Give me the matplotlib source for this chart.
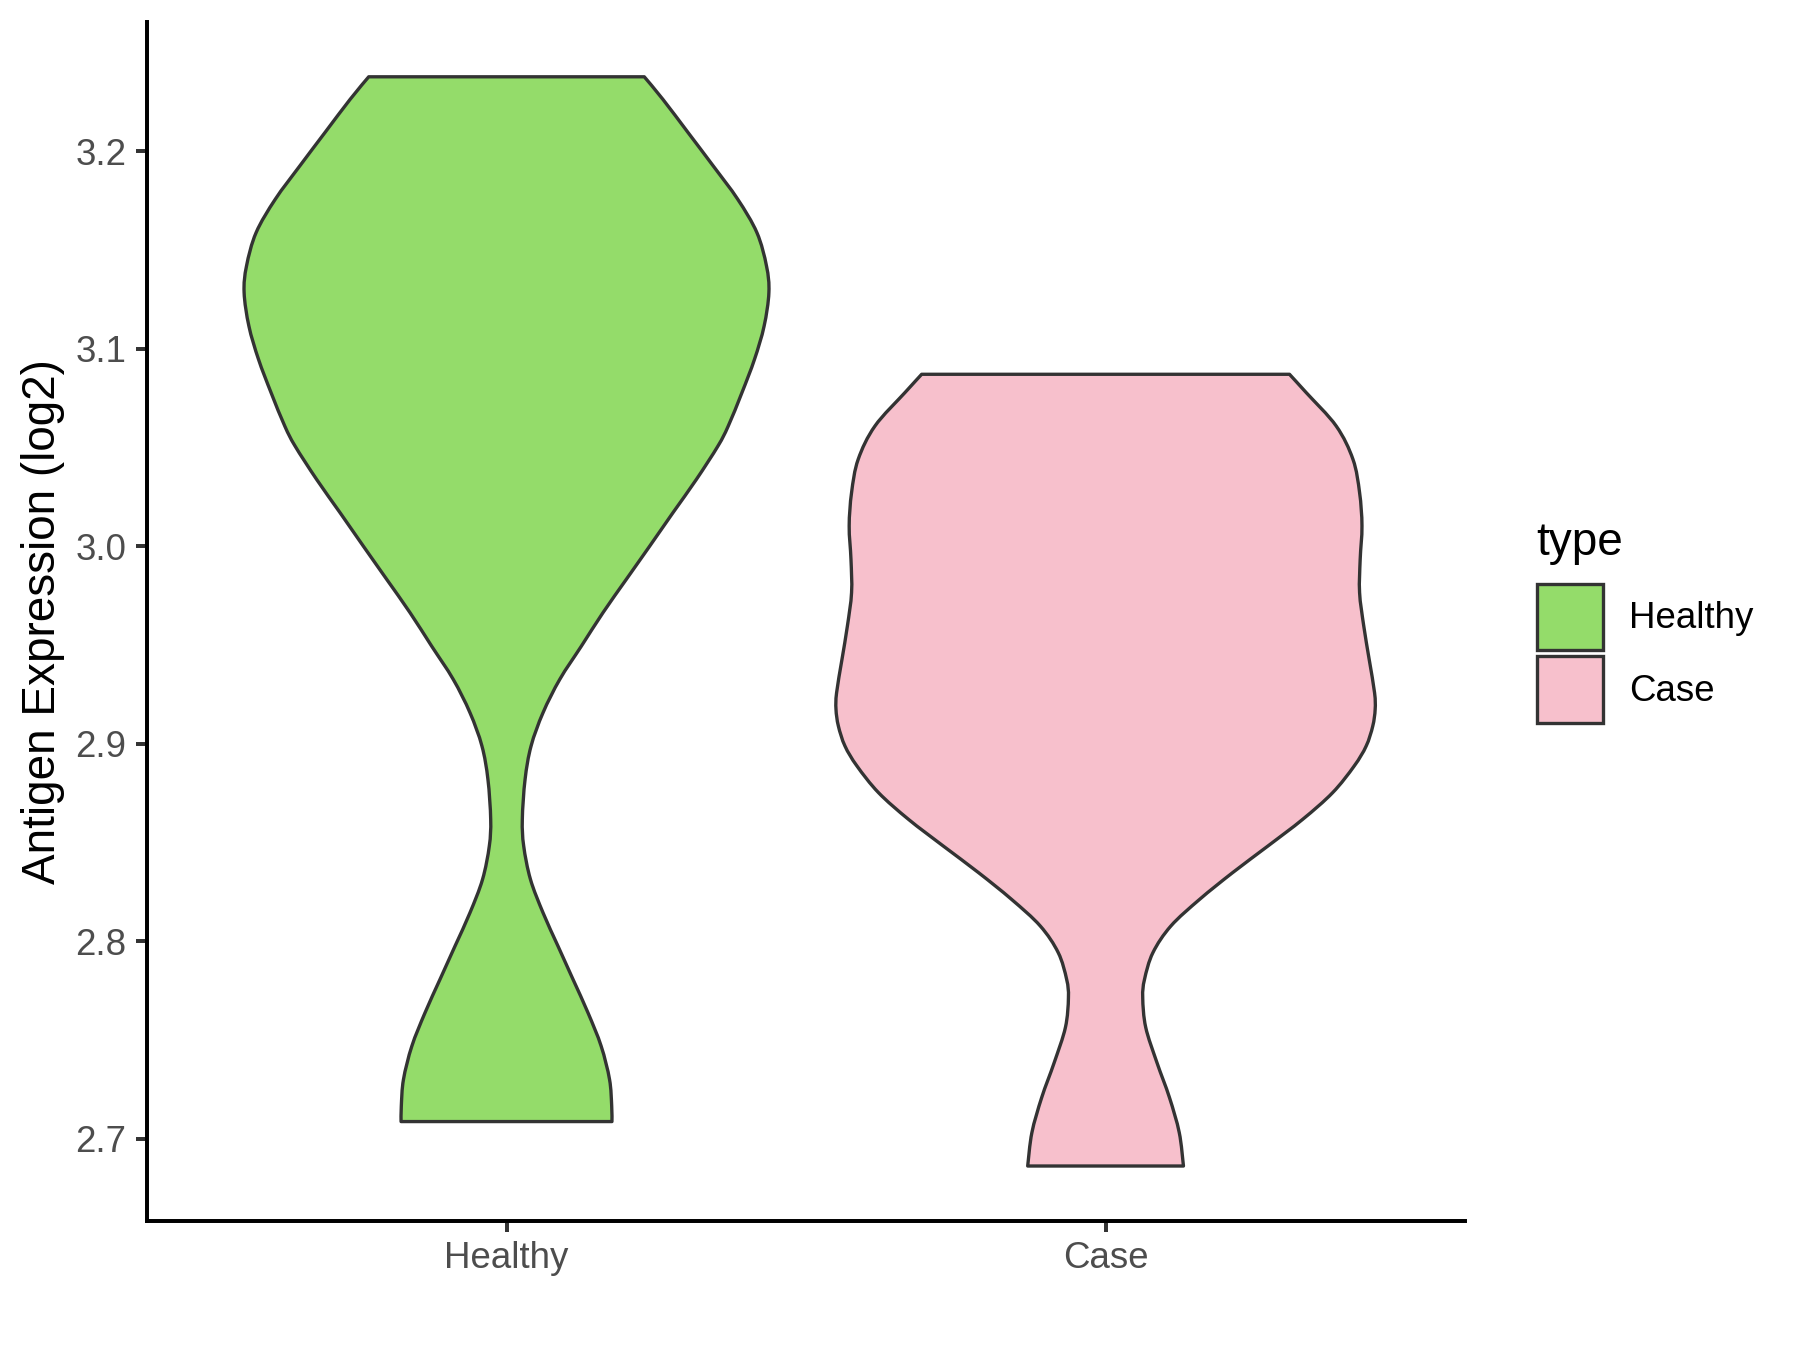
import numpy as np
import matplotlib.pyplot as plt
from matplotlib.patches import Patch, PathPatch
from matplotlib.path import Path

plt.rcParams['font.family'] = ['Liberation Sans', 'DejaVu Sans']

# Categories and fill colours
categories = ["Healthy", "Case"]
fills = ["#94DC6A", "#F7C0CC"]

# Violin outlines: level (log2 expression) and half width
# (in category units), from the top of each violin down to the bottom
healthy_y = [3.2377, 3.2263, 3.2095, 3.1926, 3.1757, 3.1588, 3.1419, 3.1285,
             3.1115, 3.0947, 3.0778, 3.0608, 3.0508, 3.0339, 3.0171, 3.0001,
             2.9833, 2.9664, 2.9495, 2.9327, 2.9158, 2.8989, 2.8820, 2.8618,
             2.8483, 2.8314, 2.8145, 2.7976, 2.7808, 2.7639, 2.7470, 2.7301,
             2.7166, 2.7088]
healthy_hw = [0.230, 0.261, 0.303, 0.345, 0.386, 0.418, 0.434, 0.438,
              0.430, 0.414, 0.393, 0.370, 0.353, 0.317, 0.278, 0.239,
              0.200, 0.161, 0.125, 0.089, 0.061, 0.041, 0.031, 0.0264,
              0.0287, 0.040, 0.061, 0.086, 0.111, 0.136, 0.158, 0.172,
              0.1756, 0.176]

case_y = [3.0871, 3.0778, 3.0609, 3.0440, 3.0272, 3.0103, 2.9934, 2.9766,
          2.9596, 2.9428, 2.9259, 2.9175, 2.9090, 2.8989, 2.8888, 2.8753,
          2.8618, 2.8483, 2.8348, 2.8213, 2.8078, 2.7943, 2.7808, 2.7715,
          2.7565, 2.7387, 2.7210, 2.7032, 2.6863]
case_hw = [0.307, 0.335, 0.385, 0.413, 0.424, 0.428, 0.425, 0.424,
           0.431, 0.440, 0.449, 0.450, 0.446, 0.435, 0.415, 0.379,
           0.329, 0.271, 0.212, 0.157, 0.109, 0.079, 0.065, 0.062,
           0.067, 0.0857, 0.1066, 0.123, 0.130]

yticks = [2.7, 2.8, 2.9, 3.0, 3.1, 3.2]


def smooth_side(pts):
    # bezier control points so the outline passes smoothly through the read points
    p = np.vstack([pts[0], pts, pts[-1]])
    verts, codes = [], []
    for i in range(1, len(p) - 2):
        c1 = p[i] + (p[i + 1] - p[i - 1]) / 6.0
        c2 = p[i + 1] - (p[i + 2] - p[i]) / 6.0
        verts += [c1, c2, p[i + 1]]
        codes += [Path.CURVE4] * 3
    return verts, codes


def violin_path(pos, lev, hw):
    lev = np.array(lev)
    hw = np.array(hw)
    left = np.column_stack([pos - hw, lev])
    right = np.column_stack([pos + hw, lev])[::-1]
    verts, codes = [left[0]], [Path.MOVETO]
    v, c = smooth_side(left)
    verts += v
    codes += c
    verts.append(right[0])
    codes.append(Path.LINETO)
    v, c = smooth_side(right)
    verts += v
    codes += c
    verts.append(left[0])
    codes.append(Path.CLOSEPOLY)
    return Path(verts, codes)


# Set up figure
f = plt.figure(figsize=(12, 9), dpi=150)
ax = f.add_axes([0.0817, 0.0959, 0.7322, 0.8876])

# Violins
outlines = [(healthy_y, healthy_hw), (case_y, case_hw)]
for i, (lev, hw) in enumerate(outlines):
    patch = PathPatch(violin_path(i + 1, lev, hw), facecolor=fills[i],
                      edgecolor="#333333", linewidth=1.6, joinstyle="round")
    ax.add_patch(patch)

# Axes styling (classic theme)
ax.set_xlim(0.4, 2.6)
ax.set_ylim(2.6587, 3.2653)
ax.set_xticks([1, 2])
ax.set_xticklabels(categories)
ax.set_yticks(yticks)
ax.set_yticklabels(["%.1f" % v for v in yticks])
for s in ["top", "right"]:
    ax.spines[s].set_visible(False)
for s in ["left", "bottom"]:
    ax.spines[s].set_linewidth(1.9)
    ax.spines[s].set_color("black")
ax.tick_params(axis="both", length=5.5, width=1.9, color="#333333",
               labelsize=17.6, labelcolor="#4D4D4D")
ax.tick_params(axis="x", pad=4.5)
ax.tick_params(axis="y", pad=4.5)
ax.set_ylabel("Antigen Expression (log2)", fontsize=22, color="black", labelpad=5)

# Legend
f.text(0.8537, 0.5889, "type", fontsize=22, ha="left", va="baseline")
handles = [Patch(facecolor=c, edgecolor="#333333", linewidth=1.6, label=l)
           for c, l in zip(fills, categories)]
leg = f.legend(handles=handles, loc="upper left",
               bbox_to_anchor=(0.8537, 0.5676), frameon=False,
               fontsize=17.6, handlelength=1.82,
               handleheight=2.42, handletextpad=0.7, labelspacing=0.16,
               borderpad=0, borderaxespad=0)

plt.savefig("out.png", dpi=150, facecolor="white")
plt.close(f)
